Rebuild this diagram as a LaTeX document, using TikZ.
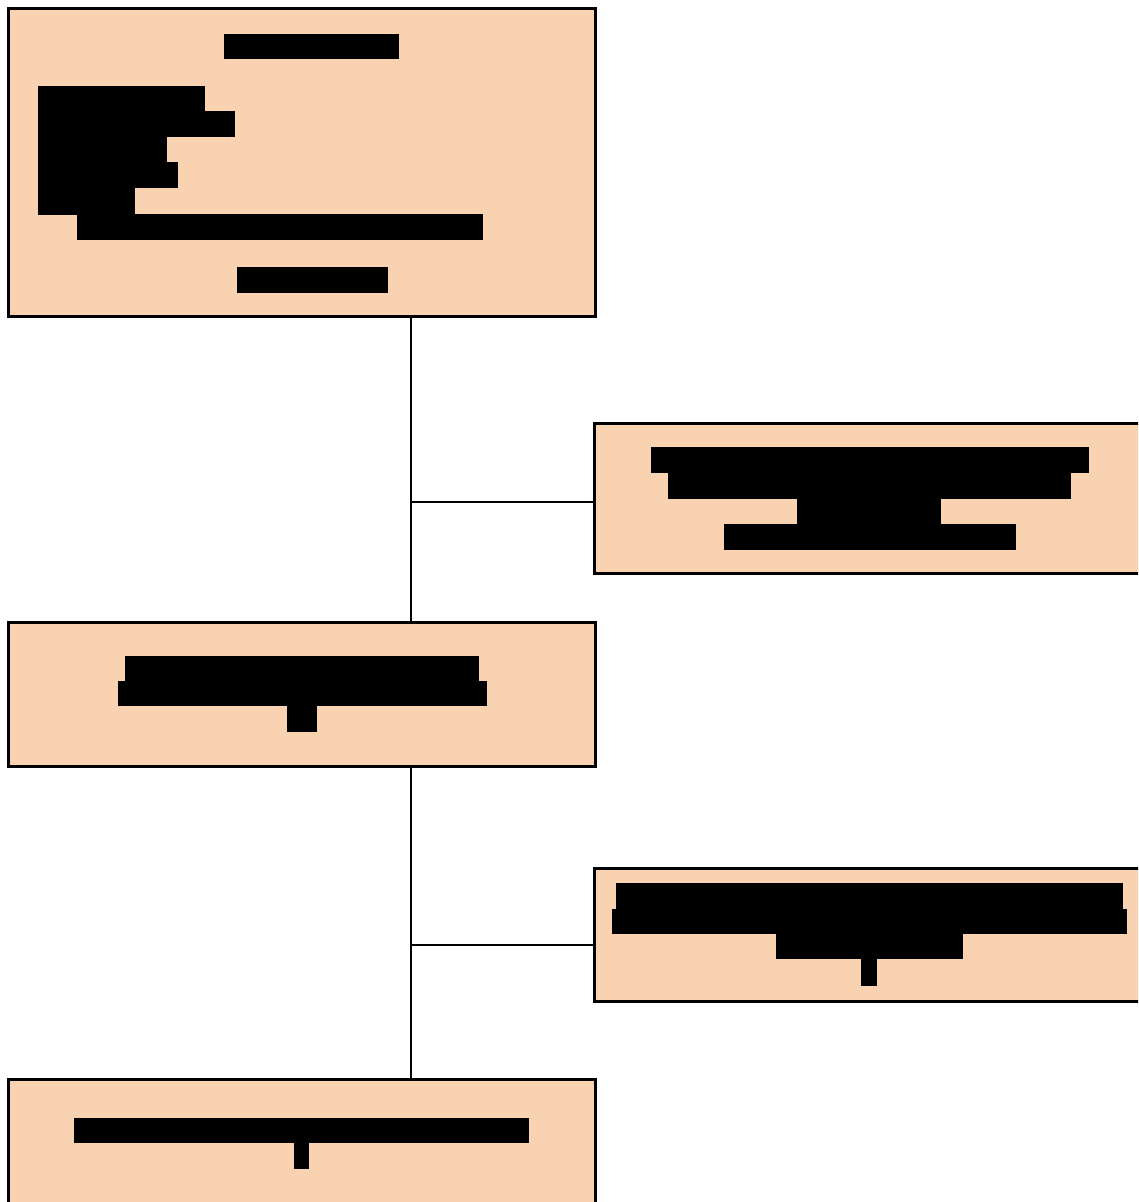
\documentclass[tikz,border=0pt]{standalone}
\usetikzlibrary{fit}
\definecolor{peach}{RGB}{249,211,177}
\tikzset{
  box/.style={draw=black, fill=peach, line width=1.5pt, inner sep=0pt, rectangle},
  link/.style={draw=black, line width=1.3pt},
  bar/.style={fill=black}
}
\begin{document}
\begin{tikzpicture}[x=0.5pt,y=-0.5pt]
\useasboundingbox (0,0) rectangle (1138,1202);
\clip (0,0) rectangle (1138,1202);
\fill[white] (0,0) rectangle (1138,1202);
% boxes
\node[box, fit={(8,9)(595,317)}] (a) {};
\node[box, fit={(594,424)(1150,573)}] (b) {};
\node[box, fit={(8,622)(595,766)}] (c) {};
\node[box, fit={(594,868)(1150,1001)}] (d) {};
\node[box, fit={(8,1079)(595,1215)}] (e) {};
% junctions
\coordinate (j1) at (411,502);
\coordinate (j2) at (411,945);
% connectors
\draw[link] (a.south -| j1) -- (c.north -| j1);
\draw[link] (j1) -- (b.west |- j1);
\draw[link] (c.south -| j2) -- (e.north -| j2);
\draw[link] (j2) -- (d.west |- j2);
% redacted text, box a
\fill[bar] (224,34) rectangle (399,59);
\fill[bar] (38,86) rectangle (205,112);
\fill[bar] (38,111) rectangle (235,137);
\fill[bar] (38,136) rectangle (167,163);
\fill[bar] (38,162) rectangle (178,188);
\fill[bar] (38,187) rectangle (135,215);
\fill[bar] (77,214) rectangle (483,240);
\fill[bar] (237,267) rectangle (388,293);
% box b
\fill[bar] (651,447) rectangle (1089,473);
\fill[bar] (668,472) rectangle (1071,499);
\fill[bar] (797,498) rectangle (941,525);
\fill[bar] (724,524) rectangle (1016,550);
% box c
\fill[bar] (125,656) rectangle (479,682);
\fill[bar] (118,681) rectangle (487,706);
\fill[bar] (287,705) rectangle (317,732);
% box d
\fill[bar] (616,883) rectangle (1123,910);
\fill[bar] (612,909) rectangle (1127,934);
\fill[bar] (776,933) rectangle (963,959);
\fill[bar] (861,958) rectangle (877,986);
% box e
\fill[bar] (74,1118) rectangle (529,1143);
\fill[bar] (294,1142) rectangle (309,1169);
\end{tikzpicture}
\end{document}
